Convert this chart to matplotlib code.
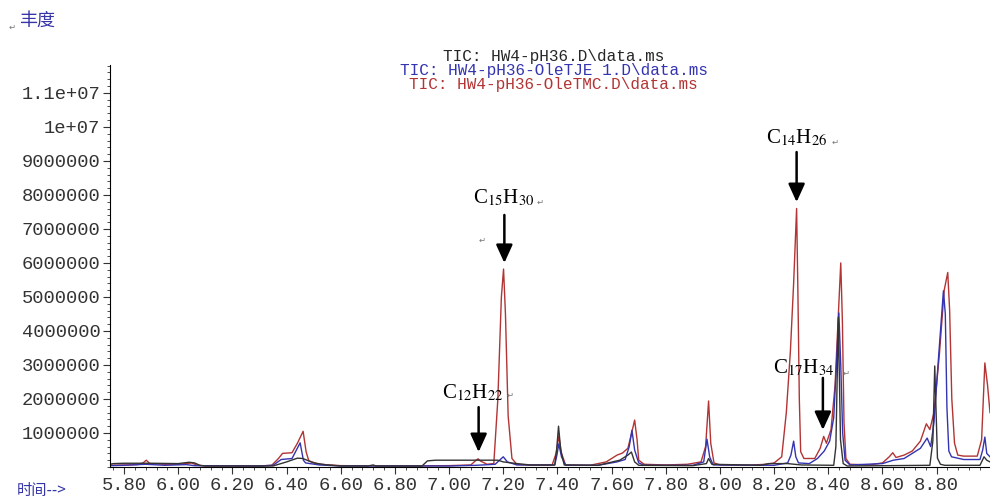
import numpy as np
import matplotlib.pyplot as plt
from matplotlib.ticker import MultipleLocator

# retention time (min) and abundance (x 1e6)
t_ph36 = [5.748, 5.76, 5.80, 5.90, 6.00, 6.04, 6.06, 6.08, 6.10, 6.35, 6.40, 6.44, 6.46, 6.50,
          6.55, 6.60, 6.70, 6.72, 6.73, 6.90, 6.92, 6.95, 7.10, 7.18, 7.20, 7.25, 7.30, 7.39,
          7.397, 7.404, 7.412, 7.425, 7.55, 7.63, 7.66, 7.673, 7.685, 7.70, 7.90, 7.95, 7.958,
          7.97, 8.15, 8.18, 8.25, 8.30, 8.42, 8.428, 8.437, 8.445, 8.455, 8.47, 8.775, 8.786,
          8.793, 8.803, 8.814, 8.83, 8.96, 8.975, 8.985, 8.997]
i_ph36 = [0.08, 0.10, 0.11, 0.11, 0.10, 0.14, 0.12, 0.05, 0.03, 0.03, 0.15, 0.26, 0.25, 0.12,
          0.06, 0.03, 0.03, 0.06, 0.03, 0.03, 0.18, 0.20, 0.20, 0.20, 0.15, 0.10, 0.06, 0.06,
          0.5, 1.2, 0.5, 0.06, 0.05, 0.20, 0.35, 0.44, 0.15, 0.05, 0.04, 0.10, 0.25,
          0.08, 0.05, 0.10, 0.10, 0.06, 0.05, 0.6, 4.4, 0.8, 0.1, 0.03, 0.05, 0.76,
          2.97, 0.26, 0.08, 0.05, 0.05, 0.3, 0.2, 0.15]

t_tje = [5.748, 5.80, 5.88, 5.95, 6.03, 6.06, 6.30, 6.35, 6.38, 6.42, 6.45, 6.462, 6.47, 6.52,
         6.60, 7.00, 7.10, 7.17, 7.20, 7.215, 7.25, 7.39, 7.398, 7.405, 7.415, 7.43, 7.55,
         7.62, 7.65, 7.665, 7.675, 7.685, 7.70, 7.72, 7.90, 7.94, 7.952, 7.962, 7.975, 8.20,
         8.25, 8.262, 8.272, 8.28, 8.29, 8.33, 8.36, 8.385, 8.405, 8.42, 8.43, 8.439, 8.446,
         8.453, 8.462, 8.48, 8.60, 8.64, 8.68, 8.71, 8.74, 8.765, 8.778, 8.79, 8.805, 8.825,
         8.832, 8.838, 8.845, 8.855, 8.90, 8.96, 8.97, 8.978, 8.985, 8.997]
i_tje = [0.04, 0.05, 0.08, 0.05, 0.07, 0.04, 0.03, 0.05, 0.22, 0.25, 0.71, 0.2, 0.12, 0.06,
         0.03, 0.03, 0.05, 0.08, 0.30, 0.15, 0.06, 0.06, 0.35, 0.68, 0.3, 0.05, 0.05,
         0.15, 0.22, 0.6, 1.08, 0.5, 0.12, 0.05, 0.05, 0.15, 0.82, 0.3, 0.06, 0.05,
         0.12, 0.35, 0.76, 0.3, 0.12, 0.10, 0.25, 0.47, 0.76, 1.45, 3.0, 4.53, 3.0,
         1.0, 0.2, 0.06, 0.1, 0.2, 0.25, 0.40, 0.55, 0.85, 0.6, 1.3, 3.0, 5.18,
         4.5, 1.74, 0.47, 0.3, 0.22, 0.22, 0.5, 0.88, 0.4, 0.3]

t_tmc = [5.748, 5.80, 5.85, 5.87, 5.882, 5.895, 5.95, 6.00, 6.03, 6.05, 6.07, 6.10, 6.30, 6.345,
         6.37, 6.385, 6.42, 6.44, 6.461, 6.472, 6.482, 6.52, 6.60, 6.80, 7.00, 7.08, 7.10,
         7.107, 7.115, 7.14, 7.165, 7.18, 7.193, 7.201, 7.208, 7.218, 7.232, 7.25, 7.30, 7.38,
         7.395, 7.405, 7.415, 7.43, 7.52, 7.58, 7.62, 7.64, 7.66, 7.674, 7.685, 7.694, 7.70,
         7.72, 7.80, 7.88, 7.93, 7.947, 7.958, 7.966, 7.978, 8.00, 8.10, 8.17, 8.20, 8.228,
         8.245, 8.26, 8.272, 8.283, 8.288, 8.293, 8.298, 8.31, 8.35, 8.37, 8.383, 8.393,
         8.41, 8.425, 8.436, 8.446, 8.452, 8.458, 8.465, 8.48, 8.55, 8.60, 8.625, 8.638, 8.65,
         8.68, 8.71, 8.74, 8.762, 8.775, 8.79, 8.81, 8.828, 8.841, 8.848, 8.856, 8.866, 8.878,
         8.90, 8.95, 8.966, 8.978, 8.988, 8.997]
i_tmc = [0.05, 0.06, 0.07, 0.12, 0.20, 0.10, 0.08, 0.08, 0.10, 0.12, 0.05, 0.03, 0.03, 0.05,
         0.25, 0.40, 0.42, 0.70, 1.05, 0.45, 0.18, 0.08, 0.04, 0.03, 0.04, 0.06, 0.20,
         0.24, 0.18, 0.08, 0.10, 2.0, 5.0, 5.82, 4.5, 1.5, 0.25, 0.08, 0.05, 0.05,
         0.40, 0.90, 0.40, 0.06, 0.05, 0.15, 0.35, 0.41, 0.55, 1.0, 1.38, 0.8, 0.2,
         0.08, 0.06, 0.08, 0.15, 0.6, 1.94, 0.7, 0.12, 0.06, 0.05, 0.08, 0.12, 0.3,
         1.6, 3.4, 5.4, 7.6, 5.0, 2.0, 0.45, 0.25, 0.25, 0.55, 0.9, 0.7,
         1.1, 2.4, 4.3, 6.0, 4.3, 1.3, 0.25, 0.08, 0.06, 0.12, 0.3, 0.42, 0.28,
         0.35, 0.47, 0.76, 1.27, 1.1, 1.6, 3.3, 5.2, 5.72, 4.6, 2.0, 0.7, 0.35,
         0.32, 0.32, 0.8, 3.06, 2.4, 1.6]

x_ticks = [5.80, 6.00, 6.20, 6.40, 6.60, 6.80, 7.00, 7.20, 7.40, 7.60, 7.80, 8.00, 8.20, 8.40,
           8.60, 8.80]
y_ticks = [1e6, 2e6, 3e6, 4e6, 5e6, 6e6, 7e6, 8e6, 9e6, 1e7, 1.1e7]
y_labels = ['1000000', '2000000', '3000000', '4000000', '5000000', '6000000', '7000000',
            '8000000', '9000000', '1e+07', '1.1e+07']

traces = ['TIC: HW4-pH36.D\\data.ms', 'TIC: HW4-pH36-OleTJE 1.D\\data.ms',
          'TIC: HW4-pH36-OleTMC.D\\data.ms']
colors = ['#262626', '#3434b0', '#b23434']

# (label, arrow x, arrow top, arrow tip, text x, text y) in data units
peaks = [('C$_{15}$H$_{30}$', 7.204, 7.41e6, 6.0e6, 7.200, 7.91e6),
         ('C$_{14}$H$_{26}$', 8.283, 9.26e6, 7.79e6, 8.285, 9.68e6),
         ('C$_{12}$H$_{22}$', 7.109, 1.76e6, 0.44e6, 7.086, 2.18e6),
         ('C$_{17}$H$_{34}$', 8.380, 2.62e6, 1.09e6, 8.309, 2.91e6)]

plt.rcParams['font.family'] = ['Liberation Mono', 'DejaVu Sans']
plt.rcParams['mathtext.fontset'] = 'stix'

W, H = 990, 501
fig = plt.figure(figsize=(W / 100, H / 100), dpi=100)
ax = fig.add_axes([110 / W, 34 / H, 880 / W, 402 / H])

ax.plot(t_tmc, np.array(i_tmc) * 1e6, color=colors[2], lw=1.0)
ax.plot(t_tje, np.array(i_tje) * 1e6, color=colors[1], lw=1.0)
ax.plot(t_ph36, np.array(i_ph36) * 1e6, color='#333333', lw=1.0)

ax.set_xlim(5.748, 8.997)
ax.set_ylim(0, 11.82e6)
ax.spines['top'].set_visible(False)
ax.spines['right'].set_visible(False)

ax.set_xticks(x_ticks)
ax.set_xticklabels(['%.2f' % v for v in x_ticks])
ax.xaxis.set_minor_locator(MultipleLocator(0.04))
ax.set_yticks(y_ticks)
ax.set_yticklabels(y_labels)
ax.yaxis.set_minor_locator(MultipleLocator(2e5))
ax.tick_params(which='major', length=5, width=0.8, labelsize=13.5, colors='#333333', pad=2)
ax.tick_params(which='minor', length=2.5, width=0.6, colors='#333333')

for txt, ax_x, top, tip, tx, ty in peaks:
    ax.annotate('', xy=(ax_x, tip), xytext=(ax_x, top),
                arrowprops=dict(arrowstyle='-|>,head_length=1.1,head_width=0.5',
                                mutation_scale=10, lw=1.8, color='black',
                                shrinkA=0, shrinkB=0))
    ax.text(tx, ty, txt, family='Liberation Serif', fontsize=15, ha='center', va='center')

for k, (txt, c) in enumerate(zip(traces, colors)):
    fig.text(553.5 / W, 1 - (57 + 13.5 * k) / H, txt, ha='center', va='center',
             fontsize=11.5, color=c)

cjk = ['Noto Sans CJK SC', 'DejaVu Sans']
fig.text(19 / W, 1 - 21 / H, '丰度', family=cjk, fontsize=13, color='#3535a8', va='center')
fig.text(17 / W, 1 - 491 / H, '时间-->', family=cjk, fontsize=11, color='#3535a8', va='center')

# paragraph marks left over from the word processor
for px, py in [(12, 27), (540, 202), (482, 240), (835, 142), (510, 395), (846, 373)]:
    fig.text(px / W, 1 - py / H, '↵', family='DejaVu Sans', fontsize=6, color='#777777',
             ha='center', va='center')

fig.savefig('out.png', dpi=100)
